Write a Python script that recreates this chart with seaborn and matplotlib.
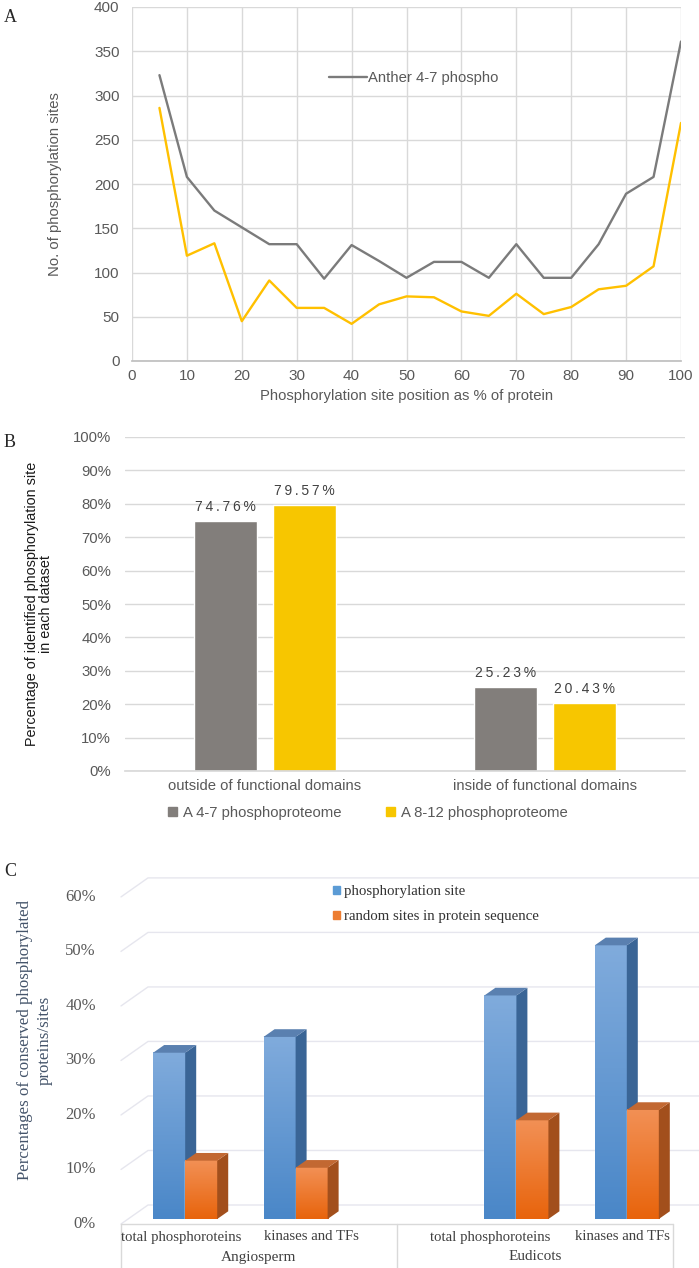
import numpy as np
import pandas as pd
import matplotlib
matplotlib.use("Agg")
import matplotlib.pyplot as plt
import seaborn as sns
from matplotlib.patches import Patch, Polygon
from matplotlib.colors import LinearSegmentedColormap

# ---- panel A: site position along the protein
position = [5, 10, 15, 20, 25, 30, 35, 40, 45, 50, 55, 60, 65, 70, 75, 80, 85, 90, 95, 100]
anther_4_7 = [323, 208, 170, 151, 132, 132, 93, 131, 113, 94, 112, 112, 94, 132, 94, 94, 132, 189, 208, 361]
anther_8_12 = [286, 119, 133, 45, 91, 60, 60, 42, 64, 73, 72, 56, 51, 76, 53, 61, 81, 85, 107, 269]
a_series = ["Anther 4-7 phospho", "Anther 8-12 phospho"]

# ---- panel B: inside / outside functional domains
domain_cats = ["outside of functional domains", "inside of functional domains"]
b_series = ["A 4-7 phosphoproteome", "A 8-12 phosphoproteome"]
a47_pct = [74.76, 25.23]
a812_pct = [79.57, 20.43]

# ---- panel C: conservation
c_groups = ["Angiosperm", "Angiosperm", "Eudicots", "Eudicots"]
c_sets = ["total phosphoroteins", "kinases and TFs", "total phosphoroteins", "kinases and TFs"]
c_series = ["phosphorylation site", "random sites in protein sequence"]
phospho_site = [30.5, 33.4, 41.0, 50.2]
random_site = [10.7, 9.4, 18.1, 20.0]

W, H = 699, 1268


def px_box(left, top, right, bottom):
    return [left / W, 1 - bottom / H, (right - left) / W, (bottom - top) / H]


sns.set_theme(style="white")
plt.rcParams["font.family"] = ["Liberation Sans", "DejaVu Sans"]
SERIF = ["Liberation Serif", "DejaVu Serif"]
tick_grey = "#595959"

fig = plt.figure(figsize=(W / 100, H / 100), dpi=100)

# ================= A =================
axA = fig.add_axes(px_box(132, 7, 681, 361))
dfA = pd.DataFrame({"position": position * 2,
                    "sites": anther_4_7 + anther_8_12,
                    "dataset": [a_series[0]] * len(position) + [a_series[1]] * len(position)})
sns.lineplot(data=dfA, x="position", y="sites", hue="dataset",
             palette=["#7B7B7B", "#FFC000"], linewidth=1.7, ax=axA)
axA.set_xlim(0, 100)
axA.set_ylim(0, 400)
axA.set_xticks(np.arange(0, 101, 10))
axA.set_yticks(np.arange(0, 401, 50))
axA.grid(True, color="#D9D9D9", lw=1)
axA.set_axisbelow(True)
for s in ["left", "top", "right"]:
    axA.spines[s].set_visible(False)
axA.spines["bottom"].set_color("#BFBFBF")
axA.tick_params(length=0, labelcolor=tick_grey, labelsize=11)
axA.tick_params(axis="y", pad=9)
axA.tick_params(axis="x", pad=6)
axA.set_xlabel("Phosphorylation site position as % of protein", fontsize=10.7,
               color=tick_grey, labelpad=4)
axA.set_ylabel("No. of phosphorylation sites", fontsize=10.7, color=tick_grey)
axA.yaxis.set_label_coords(-0.128, 0.5)
h, l = axA.get_legend_handles_labels()
axA.legend(h[:1], l[:1], loc="center left", bbox_to_anchor=((316 - 132) / 549, (361 - 78) / 354),
           frameon=False, fontsize=10.7, handlelength=2.5, handletextpad=0.1, labelcolor=tick_grey)
fig.text(4 / W, 1 - 18 / H, "A", family=SERIF, fontsize=13, va="center")

# ================= B =================
axB = fig.add_axes(px_box(125, 437, 685, 771))
dfB = pd.DataFrame({"domain": domain_cats * 2,
                    "share": a47_pct + a812_pct,
                    "dataset": [b_series[0]] * 2 + [b_series[1]] * 2})
b_cols = ["#827E7B", "#F7C600"]
sns.barplot(data=dfB, x="domain", y="share", hue="dataset", palette=b_cols, saturation=1,
            width=0.566, gap=0.2, legend=False, ax=axB)
for cont in axB.containers:
    labels = ["\u2009".join(f"{v:.2f}%") for v in cont.datavalues]
    axB.bar_label(cont, labels=labels, padding=5, fontsize=10, color="#404040")
axB.set_ylim(0, 100)
axB.set_xlim(-0.5, 1.5)
axB.set_yticks(np.arange(0, 101, 10))
axB.set_yticklabels([f"{v}%" for v in range(0, 101, 10)])
axB.yaxis.grid(True, color="#D9D9D9", lw=1)
axB.set_axisbelow(True)
for s in ["left", "top", "right"]:
    axB.spines[s].set_visible(False)
axB.spines["bottom"].set_color("#D9D9D9")
axB.tick_params(length=0, labelcolor=tick_grey, labelsize=10.7)
axB.tick_params(axis="y", pad=10)
axB.tick_params(axis="x", pad=6)
axB.set_xlabel("")
axB.set_ylabel("Percentage of identified phosphorylation site\nin each dataset",
               fontsize=10.4, color="#1A1A1A", linespacing=1.05)
axB.yaxis.set_label_coords(-0.128, 0.5)
axB.legend([Patch(color=c) for c in b_cols], b_series, loc="center left",
           bbox_to_anchor=((155 - 125) / 560, (771 - 813) / 334), ncol=2, frameon=False,
           fontsize=10.7, handlelength=0.6, handleheight=0.6, handletextpad=0.4,
           columnspacing=3.0, labelcolor=tick_grey)
fig.text(4 / W, 1 - 442 / H, "B", family=SERIF, fontsize=13, va="center")

# ================= C =================
axC = fig.add_axes(px_box(130, 881, 682, 1219))
slots = [f"{g}|{s}" for g, s in zip(c_groups, c_sets)]
slot_order = [slots[0], slots[1], "-", slots[2], slots[3]]
dfC = pd.DataFrame({"slot": slots * 2,
                    "pct": phospho_site + random_site,
                    "kind": [c_series[0]] * 4 + [c_series[1]] * 4})
sns.barplot(data=dfC, x="slot", y="pct", hue="kind", order=slot_order, saturation=1,
            palette=["#5B9BD5", "#ED7D31"], width=0.58, gap=0, legend=False, ax=axC)
xl, yl = (-0.5, 4.5), (0, 62)
axC.set_xlim(*xl)
axC.set_ylim(*yl)
axC.axis("off")

pos = axC.get_position()
sx = (xl[1] - xl[0]) / (pos.width * W)   # data units per pixel
sy = (yl[1] - yl[0]) / (pos.height * H)

wall = "#E6E6EE"
for v in range(0, 61, 10):
    axC.plot([xl[0] - 9 * sx, xl[0] + 18 * sx, xl[1] + 18 * sx],
             [v - 5 * sy, v + 14 * sy, v + 14 * sy], color=wall, lw=1,
             clip_on=False, zorder=0.5)
    axC.text(xl[0] - 34 * sx, v - 5 * sy, f"{v}%", ha="right", va="center",
             family=SERIF, fontsize=12, color=tick_grey)
axC.plot([xl[0] - 9 * sx, xl[1] - 9 * sx], [-5 * sy, -5 * sy], color="#D9D9D9", lw=1, clip_on=False)
for xb in [xl[0], 2.0, xl[1]]:
    axC.plot([xb - 9 * sx, xb - 9 * sx], [-5 * sy, -52 * sy], color="#D9D9D9", lw=1, clip_on=False)

face = {0: (["#4A87C8", "#80ABDC"], "#3A6596", "#5A80B0"),
        1: (["#E8640C", "#F29055"], "#A24F1C", "#C26832")}
ddx, ddy = 11 * sx, 7.7 * sy
for k, cont in enumerate(axC.containers):
    grad_cols, side_col, top_col = face[k]
    cmap = LinearSegmentedColormap.from_list(f"g{k}", grad_cols)
    z = 2 + 3 * k
    for rect in cont:
        hgt = rect.get_height()
        if not np.isfinite(hgt) or hgt <= 0:
            continue
        x0, w = rect.get_x(), rect.get_width()
        x1 = x0 + w
        rect.set_zorder(z)
        axC.imshow(np.linspace(1, 0, 100).reshape(-1, 1), extent=[x0, x1, 0, hgt],
                   cmap=cmap, vmin=0, vmax=1, aspect="auto", zorder=z + 0.1)
        axC.add_patch(Polygon([(x1, 0), (x1 + ddx, ddy), (x1 + ddx, hgt + ddy), (x1, hgt)],
                              closed=True, fc=side_col, ec="none", zorder=z + 0.2))
        axC.add_patch(Polygon([(x0, hgt), (x0 + ddx, hgt + ddy), (x1 + ddx, hgt + ddy), (x1, hgt)],
                              closed=True, fc=top_col, ec="none", zorder=z + 0.2))
axC.set_xlim(*xl)
axC.set_ylim(*yl)

# Excel spreads the category labels a little inside each group
label_nudge = [-4, 16, -26, -4]
for i, s, nd in zip([0, 1, 3, 4], c_sets, label_nudge):
    axC.text(i + nd * sx, -18 * sy, s, ha="center", va="center", family=SERIF,
             fontsize=10.6, color="#404040")
for xc, g in [(0.75, "Angiosperm"), (3.25, "Eudicots")]:
    axC.text(xc - 9 * sx, -38 * sy, g, ha="center", va="center", family=SERIF,
             fontsize=11, color="#404040")

axC.legend([Patch(color="#5B9BD5"), Patch(color="#ED7D31")], c_series,
           loc="upper left", bbox_to_anchor=(333 / W, 1 - 885 / H), bbox_transform=fig.transFigure,
           frameon=False, prop={"family": SERIF, "size": 10.7}, handlelength=0.45,
           handleheight=0.45, handletextpad=0.3, labelspacing=0.8, borderpad=0,
           borderaxespad=0, labelcolor="#333333")

fig.text(35 / W, 1 - 1040 / H, "Percentages of conserved phosphorylated\nproteins/sites",
         rotation=90, ha="center", va="center", family=SERIF, fontsize=12.2,
         color="#44546A", linespacing=1.3, multialignment="center")
fig.text(4 / W, 1 - 872 / H, "C", family=SERIF, fontsize=13, va="center")

fig.savefig("out.png", dpi=100)
